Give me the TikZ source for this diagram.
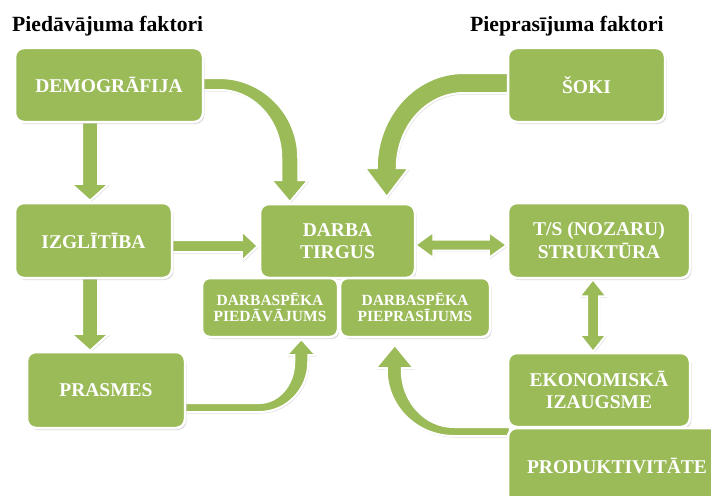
\documentclass[tikz,border=0pt]{standalone}
\usepackage{fontspec}
\setmainfont{Liberation Serif}
\usetikzlibrary{calc,shadows}
\definecolor{agreen}{RGB}{155,187,89}
\pgfdeclarelayer{bg}
\pgfsetlayers{bg,main}
\tikzset{
  box/.style={rounded corners=9pt, fill=agreen, draw=white, line width=2.5pt, text=white, align=center, inner sep=0pt,
    font=\fontsize{19.5}{22.5}\selectfont\bfseries,
    drop shadow={shadow xshift=1.5pt, shadow yshift=-2pt, opacity=0.3}},
  smallbox/.style={box, font=\fontsize{15.5}{16.5}\selectfont\bfseries, rounded corners=8pt},
  blockarrow/.style={fill=agreen, draw=white, line width=2pt, line join=miter,
    drop shadow={shadow xshift=1pt, shadow yshift=-1.5pt, opacity=0.25}},
  title/.style={anchor=base west, inner sep=0pt, font=\fontsize{21.7}{26}\selectfont\bfseries}
}
% #1 start, #2 tip, #3 shaft half width, #4 head half width, #5 head length
\newcommand\blkarrow[5]{%
  \coordinate (hb) at ($(#2)!#5!(#1)$);
  \path[blockarrow] ($(#1)!#3!90:(#2)$) -- ($(hb)!#3!90:(#2)$) -- ($(hb)!#4!90:(#2)$) -- (#2)
    -- ($(hb)!#4!-90:(#2)$) -- ($(hb)!#3!-90:(#2)$) -- ($(#1)!#3!-90:(#2)$) -- cycle;
}
\newcommand\blkdarrow[5]{%
  \coordinate (ha) at ($(#1)!#5!(#2)$);
  \coordinate (hb) at ($(#2)!#5!(#1)$);
  \path[blockarrow] (#1) -- ($(ha)!#4!90:(#2)$) -- ($(ha)!#3!90:(#2)$) -- ($(hb)!#3!90:(#2)$)
    -- ($(hb)!#4!90:(#2)$) -- (#2) -- ($(hb)!#4!-90:(#2)$) -- ($(hb)!#3!-90:(#2)$)
    -- ($(ha)!#3!-90:(#2)$) -- ($(ha)!#4!-90:(#2)$) -- cycle;
}
\begin{document}
\begin{tikzpicture}[x=1pt,y=-1pt]
\useasboundingbox (0,0) rectangle (711,495);
\clip (0,0) rectangle (711,495);

\node[title] (t1) at (12,32) {Piedāvājuma faktori};
\node[title] (t2) at (470,32) {Pieprasījuma faktori};

\node[box, minimum width=188pt, minimum height=74pt] (demo) at (109,85) {DEMOGRĀFIJA};
\node[box, minimum width=157pt, minimum height=74pt] (soki) at (586.5,85) {ŠOKI};
\node[box, minimum width=157pt, minimum height=75pt] (izgl) at (93.5,240.5) {IZGLĪTĪBA};
\node[box, minimum width=155pt, minimum height=74pt] (tirgus) at (337.5,241) {DARBA\\TIRGUS};
\node[box, minimum width=182pt, minimum height=75pt] (ts) at (599,240.5) {T/S (NOZARU)\\STRUKTŪRA};
\node[smallbox, minimum width=136pt, minimum height=59pt] (pied) at (270,307.5) {DARBASPĒKA\\PIEDĀVĀJUMS};
\node[smallbox, minimum width=150pt, minimum height=59pt] (piepr) at (415,307.5) {DARBASPĒKA\\PIEPRASĪJUMS};
\node[box, minimum width=158pt, minimum height=76pt] (prasmes) at (106,390) {PRASMES};
\node[box, minimum width=182pt, minimum height=74pt] (ekon) at (599,390) {EKONOMISKĀ\\IZAUGSME};
\node[box, minimum width=218pt, minimum height=76pt] (prod) at (617,466) {PRODUKTIVITĀTE};

\begin{pgfonlayer}{bg}
  % straight arrows
  \coordinate (a1s) at ($(demo.south)+(-19,-4)$);
  \coordinate (a1t) at ($(izgl.north)+(-3.5,-1)$);
  \blkarrow{a1s}{a1t}{8pt}{19pt}{17pt}
  \coordinate (a6s) at ($(izgl.south)+(-3.5,-4)$);
  \coordinate (a6t) at ($(prasmes.north)+(-16,0)$);
  \blkarrow{a6s}{a6t}{8pt}{19pt}{17pt}
  \coordinate (a7s) at ($(izgl.east)+(-4,5.5)$);
  \coordinate (a7t) at ($(tirgus.west)+(-1,5)$);
  \blkarrow{a7s}{a7t}{6pt}{15pt}{16pt}
  % double arrows
  \coordinate (d1a) at ($(tirgus.east)+(-1,4)$);
  \coordinate (d1b) at ($(ts.west)+(0,4.5)$);
  \blkdarrow{d1a}{d1b}{5.5pt}{13pt}{18pt}
  \coordinate (d2a) at ($(ts.south)+(-6,0)$);
  \coordinate (d2b) at ($(ekon.north)+(-6,0)$);
  \blkdarrow{d2a}{d2b}{6pt}{13.5pt}{17pt}
  % curved arrows
  \begin{scope}[shift={(demo.east)}]
    \path[blockarrow] (-3,-7) -- (15,-7) .. controls (58.6,-7) and (94,28.8) .. (94,73) -- (94,95) -- (104,95)
      -- (85.5,117) -- (67,95) -- (77,95) -- (77,73) .. controls (77,35.4) and (49.2,5) .. (15,5) -- (-3,5) -- cycle;
  \end{scope}
  \begin{scope}[shift={(soki.west)}]
    \path[blockarrow] (3,-12) -- (-43,-12) .. controls (-91.1,-12) and (-130,30.5) .. (-130,83) -- (-142,83)
      -- (-120,112) -- (-98,83) -- (-110,83) .. controls (-110,41.6) and (-80,8) .. (-43,8) -- (3,8) -- cycle;
  \end{scope}
  \begin{scope}[shift={(prasmes.east)}]
    \path[blockarrow] (-3,22) -- (73,22) .. controls (100.1,22) and (122,-0.4) .. (122,-28) -- (122,-35) -- (129.5,-35)
      -- (115,-51) -- (100.5,-35) -- (108,-35) -- (108,-28) .. controls (108,-5.4) and (92.3,13) .. (73,13) -- (-3,13) -- cycle;
  \end{scope}
  \begin{scope}[shift={(prod.west)}]
    \path[blockarrow] (3,-30) -- (-53,-30) .. controls (-90,-30) and (-120,-59.5) .. (-120,-96) -- (-120,-98) -- (-131,-98)
      -- (-112,-121) -- (-93,-98) -- (-105,-98) -- (-105,-96) .. controls (-105,-64.5) and (-81.7,-39) .. (-53,-39) -- (3,-39) -- cycle;
  \end{scope}
\end{pgfonlayer}
\end{tikzpicture}
\end{document}
